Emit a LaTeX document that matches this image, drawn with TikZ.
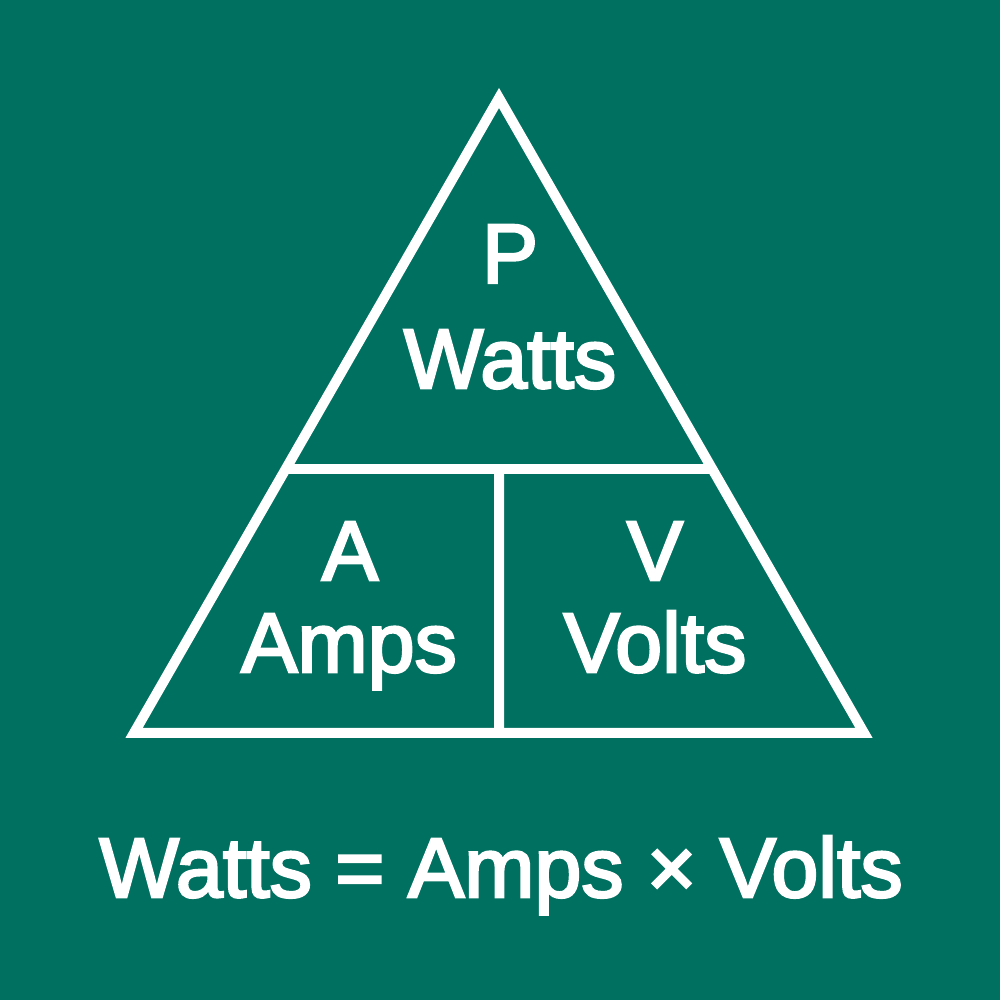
\documentclass[tikz,border=0pt]{standalone}
\usepackage{fontspec}
\usetikzlibrary{calc}
\newfontfamily\labelfont[FakeBold=3]{Liberation Sans}
\definecolor{PanelTeal}{RGB}{0, 112, 96}

\begin{document}
\begin{tikzpicture}[
                edge/.style={draw=white, line width=0.1cm, line join=miter},
                lbl/.style={anchor=base, text=white, inner sep=0pt, font=\labelfont\fontsize{24}{24}\selectfont},
                eqn/.style={anchor=base, text=white, inner sep=0pt, font=\labelfont\fontsize{24}{24}\selectfont}
            ]
                % Background
                \fill[PanelTeal] (0, 0) rectangle (10, 10);
                \useasboundingbox (0, 0) rectangle (10, 10);

                % Triangle corners
                \coordinate (apex) at (4.99, 9.02);
                \coordinate (bl) at (1.34, 2.67);
                \coordinate (br) at (8.64, 2.67);
                \coordinate (dl) at ($(apex)!0.584!(bl)$);
                \coordinate (dr) at ($(apex)!0.584!(br)$);
                \coordinate (dm) at ($(dl)!0.5!(dr)$);
                \coordinate (bm) at ($(bl)!0.5!(br)$);

                % Outline and dividers
                \draw[edge] (apex) -- (bl) -- (br) -- cycle;
                \draw[edge] (dl) -- (dr);
                \draw[edge] (dm) -- (bm);

                % Top cell
                \node[lbl] (p) at (5.10, 7.17) {P};
                \node[lbl] (watts) at (5.10, 6.12) {Watts};

                % Left cell
                \node[lbl] (a) at (3.50, 4.20) {A};
                \node[lbl] (amps) at (3.49, 3.28) {Amps};

                % Right cell
                \node[lbl] (v) at (6.55, 4.20) {V};
                \node[lbl] (volts) at (6.55, 3.28) {Volts};

                % Formula
                \node[eqn] (formula) at (5.01, 1.03) {Watts = Amps × Volts};
            \end{tikzpicture}
\end{document}
